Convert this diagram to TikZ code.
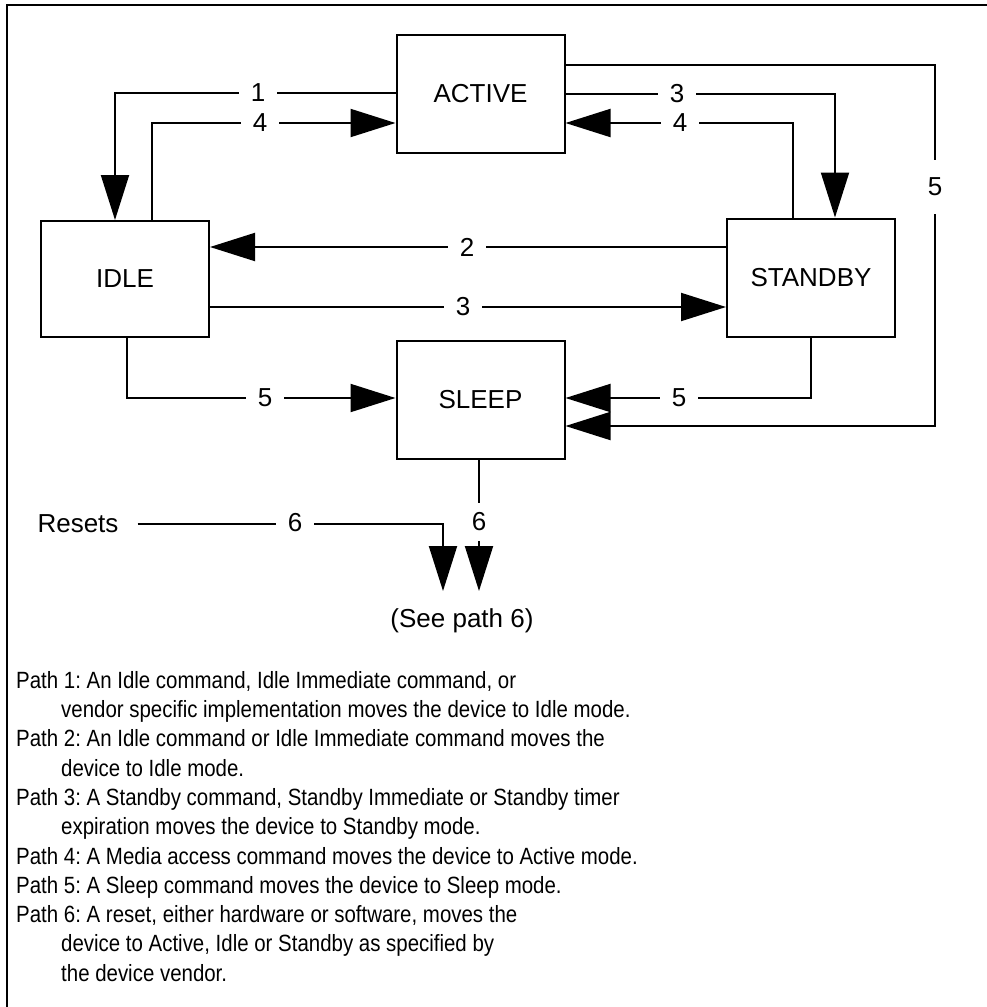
\documentclass[tikz,border=0pt]{standalone}
\usepackage{fontspec}
\setmainfont{Liberation Sans}
\newfontfamily\legendfont[FakeStretch=0.87]{Liberation Sans}
\usetikzlibrary{arrows.meta}
\frenchspacing

\tikzset{
  state/.style={draw, line width=2pt, minimum width=168pt, minimum height=118pt, inner sep=0pt},
  flow/.style={line width=2pt, -{Triangle[length=45pt,width=28pt]}},
  num/.style={fill=white, inner xsep=12pt, inner ysep=3pt},
}

\begin{document}
\begin{tikzpicture}[x=1pt, y=-1pt, font=\fontsize{26}{31}\selectfont, line join=miter]
\useasboundingbox (0,0) rectangle (987,1007);
% frame
\draw[line width=2.4pt] (7,1007) -- (7,5) -- (987,5);

% power modes
\node[state] (active) at (480.5,94) {ACTIVE};
\node[state, minimum height=116pt] (idle) at (125,279) {IDLE};
\node[state] (standby) at (811,277.5) {STANDBY};
\node[state] (sleep) at (480.5,399.5) {SLEEP};

% transitions
\draw[flow] (active.west |- 0,93) -| (idle.north -| 115,0) node[num, at={(258,93)}] {1};
\draw[flow] (idle.north -| 152,0) |- (active.west |- 0,123) node[num, at={(260,123)}] {4};
\draw[flow] (active.east |- 0,94) -| (standby.north -| 835,0) node[num, at={(677,94)}] {3};
\draw[flow] (standby.north -| 793,0) |- (active.east |- 0,123) node[num, at={(680,123)}] {4};
\draw[flow] (active.east |- 0,65) -- (935,65) -- (935,426) -- (sleep.east |- 0,426)
  node[num, inner ysep=18pt, at={(935,187)}] {5};
\draw[flow] (standby.west |- 0,247) -- (idle.east |- 0,247) node[num, at={(467,247)}] {2};
\draw[flow] (idle.east |- 0,307) -- (standby.west |- 0,307) node[num, at={(463,307)}] {3};
\draw[flow] (idle.south -| 127,0) |- (sleep.west |- 0,398) node[num, at={(265,398)}] {5};
\draw[flow] (standby.south -| 811,0) |- (sleep.east |- 0,398) node[num, at={(679,398)}] {5};

% resets
\node[inner xsep=19pt] (resets) at (78,524) {Resets};
\coordinate (tipA) at (443,591);
\coordinate (tipB) at (479,591);
\draw[flow] (resets.east) -| (tipA) node[num, at={(295,523)}] {6};
\draw[flow] (sleep.south -| tipB) -- (tipB) node[num, inner ysep=10pt, at={(479,522)}] {6};
\node (see) at (462,621) {(See path 6)};

% legend
\node[anchor=north west, inner sep=0pt, align=left, font=\legendfont\fontsize{23.5}{29.3}\selectfont]
  (legend) at (16,671) {Path 1: An Idle command, Idle Immediate command, or\\
  \hspace*{45pt}vendor specific implementation moves the device to Idle mode.\\
  Path 2: An Idle command or Idle Immediate command moves the\\
  \hspace*{45pt}device to Idle mode.\\
  Path 3: A Standby command, Standby Immediate or Standby timer\\
  \hspace*{45pt}expiration moves the device to Standby mode.\\
  Path 4: A Media access command moves the device to Active mode.\\
  Path 5: A Sleep command moves the device to Sleep mode.\\
  Path 6: A reset, either hardware or software, moves the\\
  \hspace*{45pt}device to Active, Idle or Standby as specified by\\
  \hspace*{45pt}the device vendor.};
\end{tikzpicture}
\end{document}
